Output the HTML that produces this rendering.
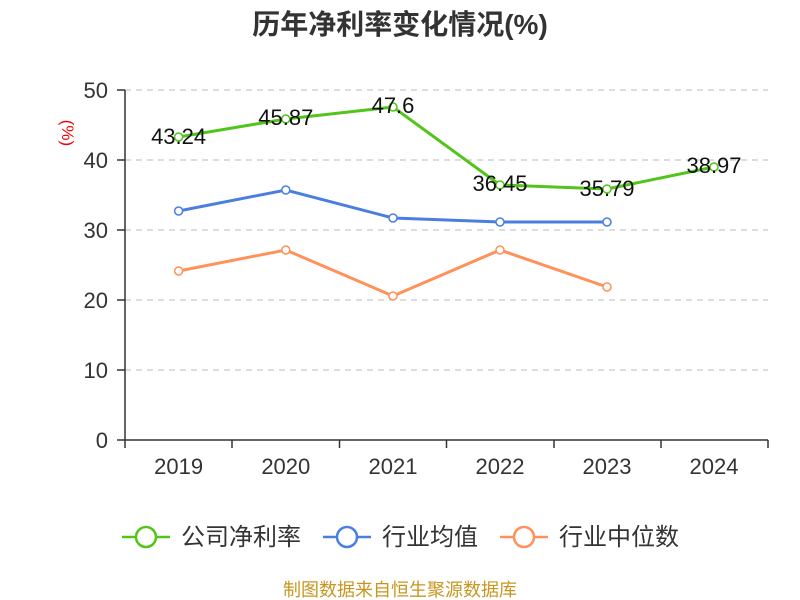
<!DOCTYPE html>
<html><head><meta charset="utf-8"><style>
html,body{margin:0;padding:0;background:#fff;width:800px;height:600px;overflow:hidden}
svg text{font-family:"Liberation Sans","Noto Sans CJK SC",sans-serif}
</style></head><body>
<svg width="800" height="600" viewBox="0 0 800 600">
<text x="400" y="34" text-anchor="middle" font-size="28" font-weight="bold" fill="#333">历年净利率变化情况(%)</text>
<text x="70" y="125" font-size="17" fill="#e00" transform="rotate(90 62 125)" text-anchor="middle">(%)</text>
<g stroke="#bbb" stroke-dasharray="6,5" stroke-width="1">
<line x1="125" y1="90" x2="768" y2="90"/><line x1="125" y1="160" x2="768" y2="160"/>
<line x1="125" y1="230" x2="768" y2="230"/><line x1="125" y1="300" x2="768" y2="300"/>
<line x1="125" y1="370" x2="768" y2="370"/></g>
<g stroke="#333" stroke-width="1.5">
<line x1="125" y1="90" x2="125" y2="440"/><line x1="125" y1="440" x2="768" y2="440"/>
<line x1="117" y1="90" x2="125" y2="90"/><line x1="117" y1="160" x2="125" y2="160"/><line x1="117" y1="230" x2="125" y2="230"/><line x1="117" y1="300" x2="125" y2="300"/><line x1="117" y1="370" x2="125" y2="370"/><line x1="117" y1="440" x2="125" y2="440"/>
<line x1="125" y1="440" x2="125" y2="448"/><line x1="232" y1="440" x2="232" y2="448"/><line x1="339.5" y1="440" x2="339.5" y2="448"/><line x1="446.5" y1="440" x2="446.5" y2="448"/><line x1="554" y1="440" x2="554" y2="448"/><line x1="661" y1="440" x2="661" y2="448"/><line x1="768" y1="440" x2="768" y2="448"/>
</g>
<g font-size="22" fill="#333" text-anchor="end">
<text x="108" y="98">50</text><text x="108" y="168">40</text><text x="108" y="238">30</text><text x="108" y="308">20</text><text x="108" y="378">10</text><text x="108" y="448">0</text></g>
<g font-size="22" fill="#333" text-anchor="middle">
<text x="178.6" y="474">2019</text><text x="285.8" y="474">2020</text><text x="393" y="474">2021</text><text x="500" y="474">2022</text><text x="607" y="474">2023</text><text x="714" y="474">2024</text></g>
<g fill="none" stroke-width="3">
<polyline stroke="#ff915a" points="178.6,271 285.8,250 393,296 500,250 607,287"/>
<polyline stroke="#4a7fe0" points="178.6,211 285.8,190 393,218 500,222 607,222"/>
<polyline stroke="#52c41a" points="178.6,137 285.8,119 393,107 500,185 607,189 714,167"/>
</g>
<g fill="#fff" stroke-width="1.5">
<g stroke="#ff915a"><circle cx="178.6" cy="271" r="4"/><circle cx="285.8" cy="250" r="4"/><circle cx="393" cy="296" r="4"/><circle cx="500" cy="250" r="4"/><circle cx="607" cy="287" r="4"/></g>
<g stroke="#4a7fe0"><circle cx="178.6" cy="211" r="4"/><circle cx="285.8" cy="190" r="4"/><circle cx="393" cy="218" r="4"/><circle cx="500" cy="222" r="4"/><circle cx="607" cy="222" r="4"/></g>
<g stroke="#52c41a"><circle cx="178.6" cy="137" r="4"/><circle cx="285.8" cy="119" r="4"/><circle cx="393" cy="107" r="4"/><circle cx="500" cy="185" r="4"/><circle cx="607" cy="189" r="4"/><circle cx="714" cy="167" r="4"/></g>
</g>
<g font-size="22" fill="#111" text-anchor="middle">
<text x="178.6" y="144">43.24</text><text x="285.8" y="125">45.87</text><text x="393" y="113">47.6</text><text x="500" y="191">36.45</text><text x="607" y="196">35.79</text><text x="714" y="173">38.97</text></g>
<g stroke-width="2.5" fill="#fff">
<line x1="122" y1="537" x2="170" y2="537" stroke="#52c41a"/><circle cx="146" cy="537" r="10" stroke="#52c41a"/>
<line x1="323" y1="537" x2="371" y2="537" stroke="#4a7fe0"/><circle cx="347" cy="537" r="10" stroke="#4a7fe0"/>
<line x1="500" y1="537" x2="548" y2="537" stroke="#ff915a"/><circle cx="524" cy="537" r="10" stroke="#ff915a"/>
</g>
<g font-size="24" fill="#333">
<text x="181" y="545">公司净利率</text><text x="382" y="545">行业均值</text><text x="559" y="545">行业中位数</text></g>
<text x="400" y="596" text-anchor="middle" font-size="18" fill="#c8961e">制图数据来自恒生聚源数据库</text>
</svg>
</body></html>
